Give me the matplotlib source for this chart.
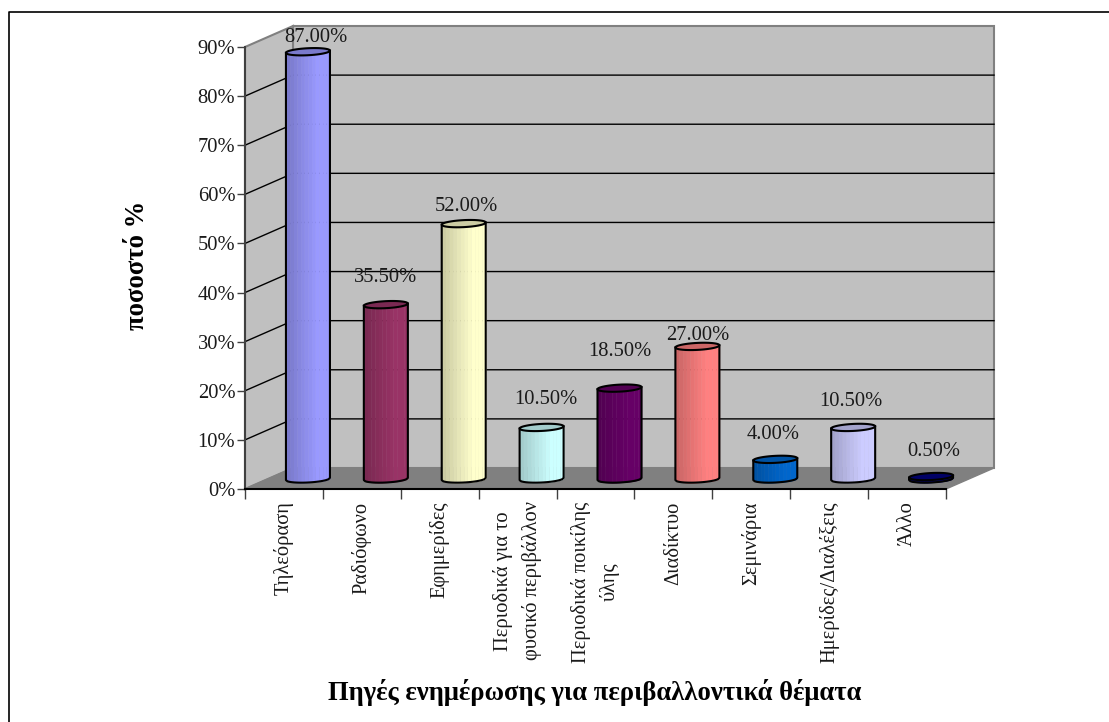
import matplotlib
matplotlib.use("Agg")
import matplotlib.pyplot as plt
from matplotlib.patches import Polygon
from matplotlib.lines import Line2D
import numpy as np

# data
categories = ["Τηλεόραση", "Ραδιόφωνο", "Εφημερίδες",
              "Περιοδικά για το\nφυσικό περιβάλλον", "Περιοδικά ποικίλης\nύλης",
              "Διαδίκτυο", "Σεμινάρια", "Ημερίδες/Διαλέξεις", "Άλλο"]
values = [87.0, 35.5, 52.0, 10.5, 18.5, 27.0, 4.0, 10.5, 0.5]
value_labels = ["87.00%", "35.50%", "52.00%", "10.50%", "18.50%",
                "27.00%", "4.00%", "10.50%", "0.50%"]
y_ticks = [0, 10, 20, 30, 40, 50, 60, 70, 80, 90]
light_colors = ["#9999ff", "#993366", "#ffffcc", "#ccffff", "#660066",
                "#ff8080", "#0066cc", "#ccccff", "#000080"]

# hand placed labels, pixel offset from the top of each bar
label_dx = [8, 0, 3, 4, 0, 0, -2, -2, 3]
label_dy = [14, 27, 17, 28, 37, 11, 25, 26, 25]

W, H = 1109, 722
plt.rcParams["font.family"] = ["Liberation Serif", "DejaVu Serif"]
fig = plt.figure(figsize=(W / 100, H / 100), dpi=100, facecolor="white")

# frame of the chart area, only top and left are inside the picture
fig.add_artist(Line2D([8.5 / W, 8.5 / W, 1], [0, 1 - 11.7 / H, 1 - 11.7 / H], color="black",
                      lw=1.2, transform=fig.transFigure))

# front axis: x 245..946, y 489 (0%) .. 47 (90%)
left, right, bottom, top = 245, 946, 489, 47
ax = fig.add_axes([left / W, 1 - bottom / H, (right - left) / W, (bottom - top) / H])
ax.set_xlim(0, 9)
ax.set_ylim(0, 90)
ax.patch.set_visible(False)
for s in ax.spines.values():
    s.set_visible(False)

px_x = 9 / (right - left)
px_y = 90 / (bottom - top)
depth_x = 48 * px_x
depth_y = 21 * px_y

# walls and floor
ax.add_patch(Polygon([(depth_x, depth_y), (9 + depth_x, depth_y), (9 + depth_x, 90 + depth_y),
                      (depth_x, 90 + depth_y)], fc="#c0c0c0", ec="#808080", lw=1.5,
                     clip_on=False, zorder=1))
ax.add_patch(Polygon([(0, 0), (depth_x, depth_y), (depth_x, 90 + depth_y), (0, 90)],
                     fc="#c0c0c0", ec="#808080", lw=1.5, clip_on=False, zorder=1))
ax.add_patch(Polygon([(0, 0), (9, 0), (9 + depth_x, depth_y), (depth_x, depth_y)],
                     fc="#808080", ec="#808080", lw=1, clip_on=False, zorder=1))

# gridlines
for t in y_ticks[1:-1]:
    ax.plot([0, depth_x, 9 + depth_x], [t, t + depth_y, t + depth_y], color="black",
            lw=1, clip_on=False, zorder=2, solid_joinstyle="miter")

# cylinders
half_w = 22 * px_x
cap_b = 3.5
cap_tilt = 0.05
t = np.linspace(0, 2 * np.pi, 61)
for i, v in enumerate(values):
    cx = i + 0.5 + depth_x / 2
    base = 10 * px_y
    ytop = base + v
    col = np.array(matplotlib.colors.to_rgb(light_colors[i]))
    ell_x = np.cos(t)
    ell_y = (np.sin(t) * cap_b + ell_x * 22 * cap_tilt) * px_y

    # shaded body, darker on the left
    edges = np.linspace(-1, 1, 13)
    for j in range(12):
        xs = np.linspace(edges[j], edges[j + 1], 6)
        low = base - (np.sqrt(1 - xs ** 2) * cap_b - xs * 22 * cap_tilt) * px_y
        high = ytop - (np.sqrt(1 - xs ** 2) * cap_b - xs * 22 * cap_tilt) * px_y
        shade = 0.8 + 0.2 * min(1, j / 8)
        ax.fill_between(cx + xs * half_w, low, high, color=col * shade, lw=0.3,
                        clip_on=False, zorder=3)

    # outline of the body
    xs = np.linspace(-1, 1, 31)
    low = base - (np.sqrt(1 - xs ** 2) * cap_b - xs * 22 * cap_tilt) * px_y
    ox = np.concatenate([[cx - half_w], cx + xs * half_w, [cx + half_w]])
    oy = np.concatenate([[ytop - 22 * cap_tilt * px_y], low, [ytop + 22 * cap_tilt * px_y]])
    ax.plot(ox, oy, color="black", lw=1.5, clip_on=False, zorder=4)

    # top cap
    ax.add_patch(Polygon(np.column_stack([cx + ell_x * half_w, ytop + ell_y]),
                         fc=col * 0.8, ec="black", lw=1.5, clip_on=False, zorder=5))

    ax.text(cx + label_dx[i] * px_x, ytop + label_dy[i] * px_y, value_labels[i],
            ha="center", va="center", fontsize=14.8, color="#1a1a1a", clip_on=False, zorder=6)

# axis lines and ticks
ax.plot([0, 0], [0, 90], color="#404040", lw=1.5, clip_on=False, zorder=6)
ax.plot([0, 9], [0, 0], color="black", lw=1.5, clip_on=False, zorder=6)
ax.set_yticks(y_ticks)
ax.set_yticklabels(["%d%%" % y for y in y_ticks], fontsize=14.8, color="#1a1a1a")
ax.set_xticks(np.arange(10))
ax.set_xticklabels([])
ax.tick_params(axis="y", length=6, width=1, pad=1, color="#404040")
ax.tick_params(axis="x", length=7, width=1, color="#404040")

for i, c in enumerate(categories):
    ax.annotate(c, xy=(i + 0.5, 0), xytext=(0, -9), textcoords="offset points",
                rotation=90, ha="center", va="top", fontsize=14.8, linespacing=1.6,
                color="#1a1a1a", multialignment="center", annotation_clip=False)

fig.text(137 / W, 1 - 265 / H, "ποσοστό %", rotation=90, ha="center", va="center",
         fontsize=19.2, fontweight="bold")
fig.text(595 / W, 1 - 692 / H, "Πηγές ενημέρωσης για περιβαλλοντικά θέματα", ha="center",
         va="center", fontsize=19.2, fontweight="bold")

fig.savefig("out.png", dpi=100, facecolor="white")
